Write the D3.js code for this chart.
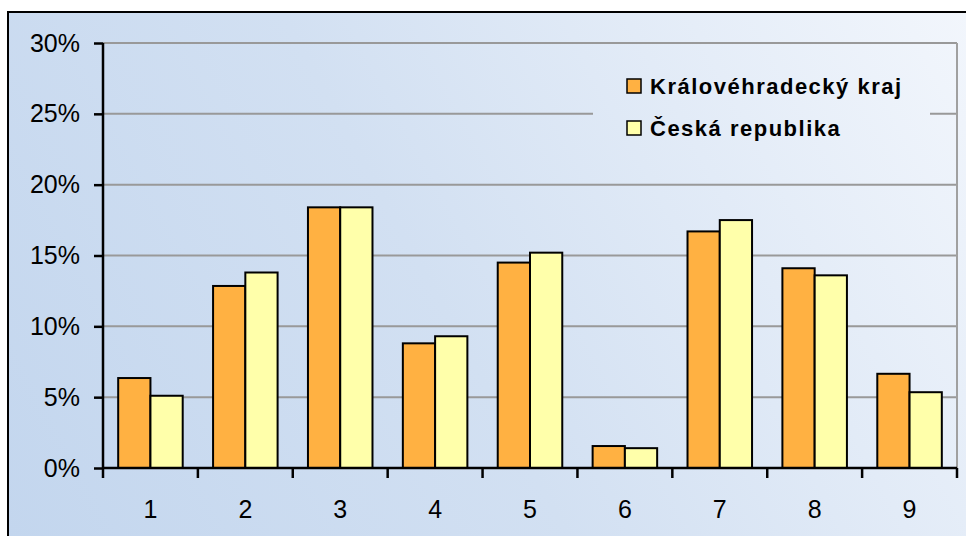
<!DOCTYPE html>
<html>
    <head>
        <meta charset="utf-8">
        <title>Královéhradecký kraj vs. Česká republika</title>
        <script src="https://d3js.org/d3.v7.min.js"></script>
        <style>
            body { margin: 0; background: #fff; }
            svg text { font-family: Arial, "Liberation Sans", sans-serif; fill: #000; }
            .tick-label { font-size: 25px; }
            .legend text { font-size: 22px; font-weight: bold; letter-spacing: 1.5px; }
        </style>
    </head>
    <body>
        <svg width="966" height="536"></svg>
        <script>
            // data
            var categories = ["1", "2", "3", "4", "5", "6", "7", "8", "9"];
            var seriesNames = ["Královéhradecký kraj", "Česká republika"];
            var kraj = [6.35, 12.85, 18.4, 8.8, 14.5, 1.55, 16.7, 14.1, 6.65];
            var cr = [5.1, 13.8, 18.4, 9.3, 15.2, 1.4, 17.5, 13.6, 5.35];
            var yTicks = [0, 5, 10, 15, 20, 25, 30];
            var colors = ["#ffb142", "#ffffaa"];

            var svg = d3.select("svg");

            var plotLeft = 103, plotRight = 957, plotTop = 43, plotBottom = 468;

            // background gradient
            var defs = svg.append("defs");
            var grad = defs.append("linearGradient")
                .attr("id", "bg")
                .attr("gradientUnits", "userSpaceOnUse")
                .attr("x1", 8).attr("y1", 536)
                .attr("x2", 966).attr("y2", 12);
            grad.append("stop").attr("offset", "0%").attr("stop-color", "#c3d6ee");
            grad.append("stop").attr("offset", "45%").attr("stop-color", "#d2e0f2");
            grad.append("stop").attr("offset", "100%").attr("stop-color", "#f2f6fc");

            svg.append("rect")
                .attr("x", 8).attr("y", 12)
                .attr("width", 970).attr("height", 540)
                .attr("fill", "url(#bg)")
                .attr("stroke", "#000")
                .attr("stroke-width", 2);

            var x = d3.scaleBand()
                .domain(categories)
                .range([plotLeft, plotRight])
                .paddingInner(0.32)
                .paddingOuter(0.16);

            var xSub = d3.scaleBand()
                .domain([0, 1])
                .range([0, x.bandwidth()]);

            var y = d3.scaleLinear()
                .domain([0, 30])
                .range([plotBottom, plotTop]);

            // gridlines
            svg.append("g")
                .selectAll("line")
                .data(yTicks.filter(d => d > 0))
                .enter().append("line")
                .attr("x1", plotLeft).attr("x2", plotRight)
                .attr("y1", d => y(d)).attr("y2", d => y(d))
                .attr("stroke", "#999")
                .attr("stroke-width", 2);

            // right edge of plot area
            svg.append("line")
                .attr("x1", plotRight).attr("x2", plotRight)
                .attr("y1", plotTop).attr("y2", plotBottom)
                .attr("stroke", "#a0a0a0")
                .attr("stroke-width", 2);

            // legend panel hides the grid behind it
            var legend = svg.append("g").attr("class", "legend");
            legend.append("rect")
                .attr("x", 593).attr("y", 50)
                .attr("width", 337).attr("height", 128)
                .attr("fill", "url(#bg)");

            seriesNames.forEach(function(name, i) {
                var cy = 86 + i * 42;
                legend.append("rect")
                    .attr("x", 627).attr("y", cy - 7)
                    .attr("width", 14).attr("height", 14)
                    .attr("fill", colors[i])
                    .attr("stroke", "#000")
                    .attr("stroke-width", 1.5);
                legend.append("text")
                    .attr("x", 650).attr("y", cy + 8)
                    .text(name);
            });

            // bars
            var series = [kraj, cr];
            series.forEach(function(vals, s) {
                svg.append("g")
                    .selectAll("rect")
                    .data(vals)
                    .enter().append("rect")
                    .attr("x", (d, i) => x(categories[i]) + xSub(s))
                    .attr("y", d => y(d))
                    .attr("width", xSub.bandwidth())
                    .attr("height", d => y(0) - y(d))
                    .attr("fill", colors[s])
                    .attr("stroke", "#000")
                    .attr("stroke-width", 2);
            });

            // y axis
            var yAxis = svg.append("g")
                .attr("transform", "translate(" + plotLeft + ",0)")
                .call(d3.axisLeft(y).tickValues(yTicks).tickFormat(d => d + "%").tickSize(9).tickPadding(14));
            yAxis.attr("font-size", null).attr("font-family", null);
            yAxis.select(".domain").attr("stroke", "#000").attr("stroke-width", 2.5)
                .attr("d", "M0," + plotTop + "V" + plotBottom);
            yAxis.selectAll(".tick line").attr("stroke", "#000").attr("stroke-width", 2.5);
            yAxis.selectAll(".tick text").attr("class", "tick-label");

            // x axis with ticks on the band boundaries
            var xAxis = svg.append("g").attr("transform", "translate(0," + plotBottom + ")");
            xAxis.append("line")
                .attr("x1", plotLeft).attr("x2", plotRight)
                .attr("stroke", "#000").attr("stroke-width", 2.5);
            var step = x.step();
            xAxis.selectAll(".xt")
                .data(d3.range(categories.length + 1))
                .enter().append("line")
                .attr("x1", i => plotLeft + i * step)
                .attr("x2", i => plotLeft + i * step)
                .attr("y1", 0).attr("y2", 10)
                .attr("stroke", "#000").attr("stroke-width", 2.5);
            xAxis.selectAll(".xl")
                .data(categories)
                .enter().append("text")
                .attr("class", "tick-label")
                .attr("x", d => x(d) + x.bandwidth() / 2)
                .attr("y", 50)
                .attr("text-anchor", "middle")
                .text(d => d);
        </script>
    </body>
</html>
